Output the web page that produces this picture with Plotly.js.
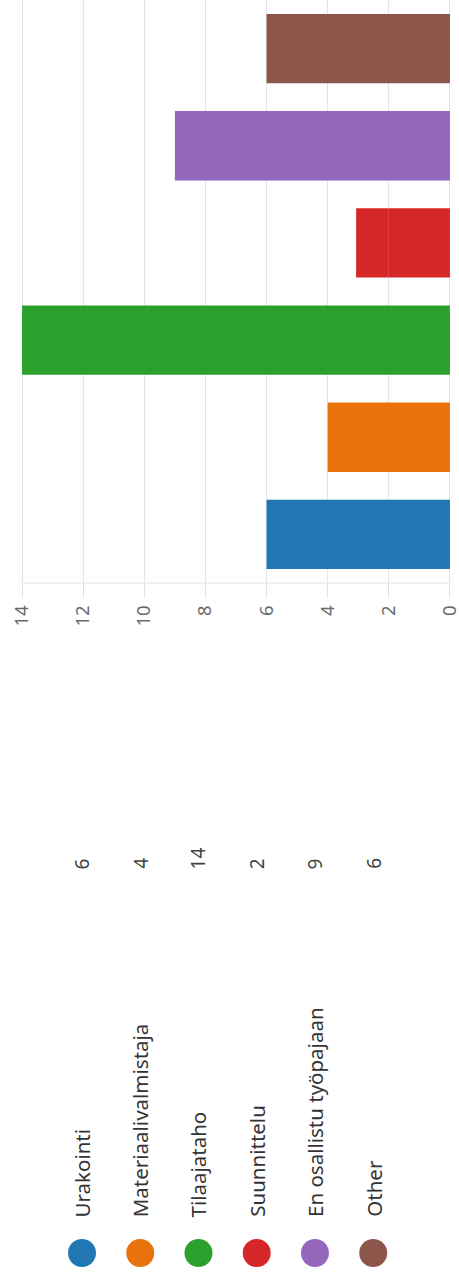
<!DOCTYPE html>
<html>
<head>
<meta charset="utf-8">
<script src="https://cdn.plot.ly/plotly-3.0.1.min.js"></script>
<style>html,body{margin:0;padding:0;background:#fff;}#chart{width:459px;height:1281px;}</style>
</head>
<body>
<div id="chart"></div>
<script>
// ---- data ----
const categories = ["Urakointi", "Materiaalivalmistaja", "Tilaajataho", "Suunnittelu", "En osallistu työpajaan", "Other"];
const counts = [6, 4, 14, 2, 9, 6];
// extra red segment visible in the picture on top of the Suunnittelu bar (from 2 to ~3.07)
const extraSegment = [null, null, null, 1.07, null, null];
const extraBase = [null, null, null, 2, null, null];
const colors = ["#2077b4", "#e8720c", "#2ca02c", "#d62728", "#9467bd", "#8c564b"];
const tickVals = [0, 2, 4, 6, 8, 10, 12, 14];

const W = 459, H = 1281;
const pad = 0.1, unitPx = 30.59;
const mL = 21.7 - pad * unitPx, mR = 9 - pad * unitPx, mT = 0, mB = 698;
const plotW = W - mL - mR, plotH = H - mT - mB;
const px2paperX = p => (p - mL) / plotW;
const px2paperY = p => (H - mB - p) / plotH;

const traces = [
  {
    type: "bar", orientation: "h",
    y: categories, x: counts,
    marker: {color: colors, line: {width: 0}},
    hoverinfo: "x+y", showlegend: false
  },
  {
    type: "bar", orientation: "h",
    y: categories, x: extraSegment, base: extraBase,
    marker: {color: colors, line: {width: 0}},
    hoverinfo: "skip", showlegend: false
  }
];

const annotations = [];
const shapes = [];
const font = "'Noto Sans', 'Open Sans', sans-serif";
categories.forEach((c, i) => {
  const cx = 81.7 + 58.3 * i;
  const r = 14;
  shapes.push({
    type: "circle", xref: "paper", yref: "paper",
    x0: px2paperX(cx - r), x1: px2paperX(cx + r),
    y0: px2paperY(1253 + r), y1: px2paperY(1253 - r),
    fillcolor: colors[i], line: {width: 0}
  });
  annotations.push({
    xref: "paper", yref: "paper", x: px2paperX(cx), y: px2paperY(1219),
    xanchor: "center", yanchor: "bottom", text: c, showarrow: false, textangle: -90,
    font: {family: font, size: 20.5, color: "#333333"}
  });
  annotations.push({
    xref: "paper", yref: "paper", x: px2paperX(cx), y: px2paperY(871),
    xanchor: "center", yanchor: "bottom", text: String(counts[i]), showarrow: false, textangle: -90,
    font: {family: font, size: 19, color: "#444444"}
  });
});

const layout = {
  width: W, height: H,
  margin: {l: mL, r: mR, t: mT, b: mB, pad: 0},
  paper_bgcolor: "#ffffff", plot_bgcolor: "#ffffff",
  barmode: "overlay", bargap: 0.286,
  xaxis: {
    range: [14 + pad, -pad], tickvals: tickVals, ticktext: tickVals.map(String),
    tickangle: -90, ticks: "outside", ticklen: 14, tickcolor: "#e2e2e2",
    showgrid: true, gridcolor: "#e4e4e4", gridwidth: 1, zeroline: false,
    showline: false, automargin: false, ticklabeloverflow: "allow",
    tickfont: {family: font, size: 18.5, color: "#6a6a6a"}
  },
  yaxis: {
    showticklabels: false, showgrid: false, zeroline: false, ticks: "",
    showline: false, range: [-0.5, 5.5]
  },
  shapes: shapes.concat([{
    type: "line", xref: "paper", yref: "paper",
    x0: px2paperX(21.7), x1: px2paperX(450), y0: 0, y1: 0,
    line: {color: "#e2e2e2", width: 1}
  }]),
  annotations: annotations,
  showlegend: false
};

Plotly.newPlot("chart", traces, layout, {displayModeBar: false, staticPlot: true});
</script>
</body>
</html>
